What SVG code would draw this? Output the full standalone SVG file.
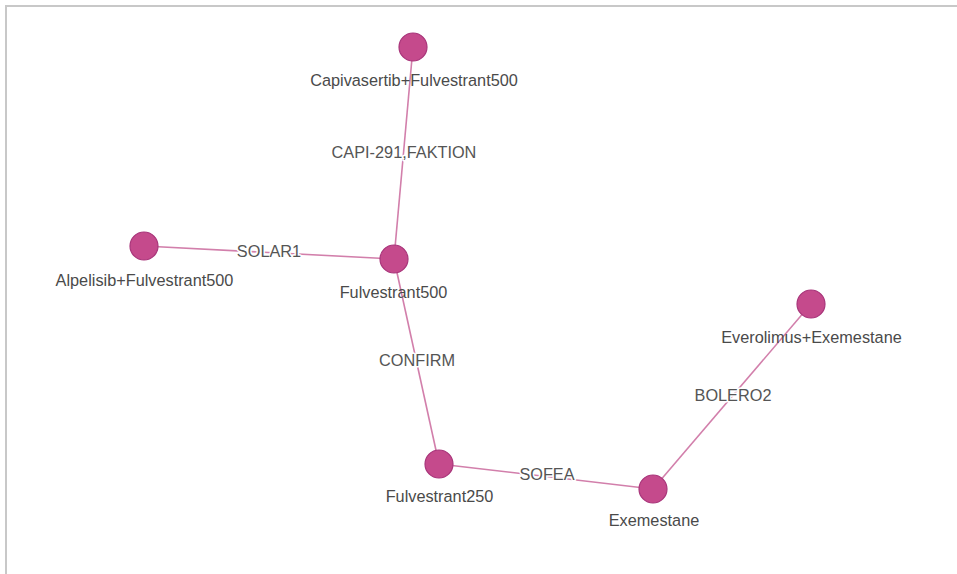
<svg xmlns="http://www.w3.org/2000/svg" width="957" height="574" viewBox="0 0 957 574">
<style>
.frame{stroke:#c8c8c8;stroke-width:2;fill:none}
.edge{stroke:#d27fab;stroke-width:1.6;fill:none}
.node{fill:#c54a8c;stroke:#a8357a;stroke-width:1.2}
.nlabel{font-family:"Liberation Sans",Arial,sans-serif;font-size:16.3px;fill:#4a4a4a;text-anchor:middle}
.elabel{font-family:"Liberation Sans",Arial,sans-serif;font-size:16.3px;fill:#555;text-anchor:middle;stroke:#fff;stroke-width:3;paint-order:stroke;stroke-linejoin:round}
</style>
<rect width="957" height="574" fill="#fff"/>
<path class="frame" d="M6 574 V6 H957"/>
<g id="connectors">
<line class="edge" x1="413" y1="47" x2="394" y2="259"/>
<line class="edge" x1="144" y1="246" x2="394" y2="259"/>
<line class="edge" x1="394" y1="259" x2="439" y2="464"/>
<line class="edge" x1="439" y1="464" x2="653" y2="489"/>
<line class="edge" x1="653" y1="489" x2="811" y2="304"/>
<text class="elabel" x="404" y="158">CAPI-291,FAKTION</text>
<text class="elabel" x="269" y="257">SOLAR1</text>
<text class="elabel" x="417" y="366">CONFIRM</text>
<text class="elabel" x="547" y="480">SOFEA</text>
<text class="elabel" x="733" y="401">BOLERO2</text>
</g>
<g id="n-capivasertib"><circle class="node" cx="413" cy="47" r="14"/><text class="nlabel" x="414" y="86">Capivasertib+Fulvestrant500</text></g>
<g id="n-alpelisib"><circle class="node" cx="144" cy="246" r="14"/><text class="nlabel" x="144.5" y="286">Alpelisib+Fulvestrant500</text></g>
<g id="n-fulvestrant500"><circle class="node" cx="394" cy="259" r="14"/><text class="nlabel" x="393.5" y="298">Fulvestrant500</text></g>
<g id="n-fulvestrant250"><circle class="node" cx="439" cy="464" r="14"/><text class="nlabel" x="439.5" y="502">Fulvestrant250</text></g>
<g id="n-exemestane"><circle class="node" cx="653" cy="489" r="14"/><text class="nlabel" x="654" y="526">Exemestane</text></g>
<g id="n-everolimus"><circle class="node" cx="811" cy="304" r="14"/><text class="nlabel" x="811.5" y="343">Everolimus+Exemestane</text></g>
</svg>
